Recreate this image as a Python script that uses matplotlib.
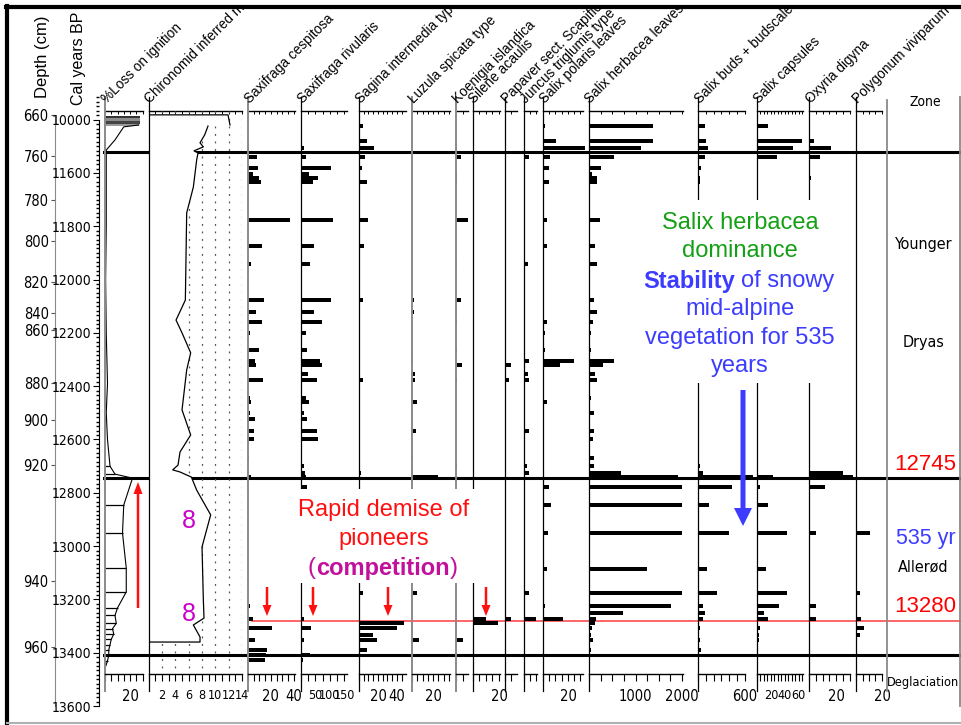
import matplotlib.pyplot as plt
import numpy as np
from matplotlib.ticker import MultipleLocator
from matplotlib.transforms import Bbox, TransformedBbox
from matplotlib.patches import Rectangle, Polygon, FancyArrow
from matplotlib import font_manager

# ---- data -------------------------------------------------------------
# sample ages (cal yr BP) shared by all macrofossil columns
sample_age = [11425, 11480, 11505, 11540, 11580, 11605, 11620, 11635, 11775, 11875,
              11940, 12075, 12120, 12160, 12200, 12265, 12305, 12320, 12355, 12375,
              12445, 12460, 12500, 12525, 12570, 12600, 12670, 12700, 12725, 12740,
              12780, 12845, 12950, 13085, 13175, 13225, 13250, 13272, 13290, 13308,
              13333, 13352, 13390, 13408, 13427]

sax_cespitosa = [0, 0, 1, 8, 9, 4, 10, 11, 37, 12, 3, 14, 7, 12, 2, 10, 6, 7, 0, 13,
                 1.5, 3, 1.5, 6, 5, 5, 1, 0, 0, 3, 0, 0, 0, 0, 0, 2, 0, 4, 0, 21,
                 0, 6, 17, 16, 15]
sax_rivularis = [0, 0, 11, 16, 102, 28, 58, 43, 111, 46, 31, 103, 45, 71, 16, 20, 66, 71, 24, 56,
                 16, 28, 11, 22, 56, 58, 5, 9, 14, 16, 20, 0, 0, 0, 0, 0, 0, 9, 0, 33,
                 0, 9, 0, 30, 7]
sagina = [4, 8, 16, 6, 3, 0, 1, 8, 9, 5, 1, 4, 1.5, 1.5, 1.5, 1, 0, 1.5, 0, 4,
          0, 1, 0, 1, 1, 0, 0, 0, 2, 0, 0, 0, 0, 0, 4, 0, 0, 0, 47, 40,
          15, 19, 8, 0, 0]
luzula = [0, 0, 0, 0, 0, 0, 0, 0, 0, 0, 0, 1.5, 1.5, 0, 0, 0, 1, 0, 3, 3,
          0, 4.5, 0, 0, 4, 0, 1, 0, 1, 25, 0, 0, 0, 0, 5, 0, 0, 0, 0, 0,
          0, 7, 0, 0, 0]
koenigia = [0, 0, 1, 3.6, 0, 1, 1, 1, 9.5, 0, 1, 3.6, 1, 1, 0, 1, 0, 4.4, 0, 1,
            0, 0, 0, 0, 0, 0, 0, 1, 0, 0, 0, 0, 0, 0, 0, 0, 0, 0, 0, 0,
            0, 5, 0, 0, 0]
silene = [0, 0, 1, 0, 1, 1, 0, 1, 0, 1, 0, 1, 0, 0, 0, 0, 0, 0, 0, 0,
          0, 0, 0, 0, 0, 0, 0, 0, 0, 0, 0, 0, 0, 0, 0, 0, 0, 10, 19, 0,
          1, 0, 0, 0, 0]
papaver = [0, 0, 1, 0, 0, 1, 1, 0, 1, 0, 1, 0, 0, 0, 0, 1, 0, 5, 0, 3,
           0, 0, 1, 0, 0, 0, 0, 1, 0, 0, 0, 0, 0, 0, 0, 0, 0, 5, 0, 0,
           0, 0, 0, 0, 0]
juncus = [0, 0, 0, 4, 0, 0, 0, 0, 0, 0, 3, 0, 1, 0, 0, 0, 4, 1, 3, 4,
          0, 0, 0, 0, 4, 0, 0, 2.5, 4, 0, 0, 0, 0, 0, 4, 0, 0, 10, 0, 0,
          0, 0, 0, 0, 0]
salix_polaris = [2, 10.6, 34, 6, 5, 0, 0, 5, 3, 3, 0, 1, 0, 3.5, 2, 1.5, 25, 13.6, 0, 0,
                 0, 3.5, 0, 0, 0, 0, 0, 0, 0, 0, 5, 6.5, 4, 3.5, 0, 2, 0, 15.7, 0, 0,
                 0, 1, 0, 0, 0]
salix_herbacea = [1370, 1383, 1110, 538, 250, 60, 180, 180, 237, 130,
                  180, 110, 165, 80, 50, 50, 545, 303, 130, 165,
                  50, 0, 100, 0, 100, 80, 110, 100, 680, 1920,
                  2000, 2000, 2000, 1240, 2000, 1760, 720, 160, 130, 60,
                  40, 80, 40, 0, 0]
salix_buds = [90, 100, 132, 90, 35, 0, 22, 22, 0, 0, 0, 0, 0, 0, 0, 0, 0, 0, 0, 0,
              10, 0, 10, 0, 10, 0, 15, 20, 60, 700, 430, 145, 400, 110, 240, 60, 90, 60, 0, 30,
              0, 30, 40, 0, 0]
salix_capsules = [16, 65, 51, 29, 1, 0, 0, 1, 0, 0, 0, 0, 0, 0, 0, 0, 0, 0, 0, 0,
                  0, 0, 1, 0, 0, 0, 0, 0, 0, 23, 5, 16, 43, 13, 43, 31, 10, 16, 0, 4,
                  3, 3, 0, 0, 0]
oxyria = [0, 3.4, 16, 8, 1, 0, 1.5, 1, 0, 0, 0, 0, 0, 0, 0, 0, 0, 0, 0, 0,
          0, 0, 0, 0, 0, 0, 0, 1, 25, 32, 12, 0, 5, 0, 0, 5, 0, 5, 0, 0,
          0, 0, 0, 0, 0]
polygonum = [1, 0, 1, 0, 1, 1, 1, 0, 1, 0, 1, 1, 0, 0, 0, 0, 0, 0, 0, 0,
             0, 0, 0, 1, 0, 0, 0, 0, 0, 0, 1, 1, 11, 0, 3, 0, 0, 4, 0, 6,
             3, 0, 0, 0, 0]

# loss on ignition (%)
loi_top_age = [11390, 11400, 11410, 11420]
loi_top = [28, 28, 28, 27]
loi_age = [11420, 11427, 11476, 11514, 11600, 11800, 12000, 12200, 12390, 12500,
           12600, 12650, 12700, 12730, 12745, 12846, 12951, 13082, 13172, 13232,
           13260, 13290, 13310, 13330, 13350, 13370, 13390, 13410, 13430, 13445]
loi = [27, 15, 8, 1, 1, 1, 0.5, 1, 2, 1,
       2, 3, 4, 8, 22, 15, 14, 17, 17, 10,
       8, 9, 6, 7, 5, 4, 3, 3, 2, 1]

# chironomid inferred July temperature (deg C)
chiro_hol_age = [11382, 11382, 11420]
chiro_hol = [0, 11.9, 12.2]
chiro_age = [11424, 11457, 11487, 11502, 11517, 11525, 11551, 11653, 11750, 12077,
             12152, 12200, 12275, 12339, 12489, 12583, 12647, 12696, 12714, 12722,
             12741, 12790, 12883, 13003, 13202, 13270, 13296, 13341, 13360]
chiro = [8.9, 8.4, 7.7, 8.2, 6.8, 7.4, 7.2, 6.7, 5.7, 5.5,
         4.1, 5.0, 6.3, 5.7, 5.0, 6.3, 4.7, 4.4, 3.6, 4.7,
         6.4, 7.2, 9.3, 8.0, 8.2, 8.3, 6.7, 7.7, 7.7]

# age model ticks
depth_cm = [660, 760, 780, 800, 820, 840, 860, 880, 900, 920, 940, 960]
depth_age = [11382, 11538, 11701, 11857, 12008, 12125, 12189, 12389, 12527, 12696, 13130, 13377]
cal_ticks = [11400, 11600, 11800, 12000, 12200, 12400, 12600, 12800, 13000, 13200, 13400, 13600]
cal_labels = ['10000', '11600', '11800', '12000', '12200', '12400', '12600', '12800',
              '13000', '13200', '13400', '13600']

zone_bounds = [11520, 12745, 13410]
demise_age = 13280
zone_names = ['Younger', 'Dryas', 'Allerød', 'Deglaciation']
zone_name_age = [11870, 12238, 13078, 13510]

# ---- layout -----------------------------------------------------------
W, H = 962, 725
AGE_TOP, AGE_BOT = 11315, 13600
AXIS_TOP, AXIS_BOT = 11367, 13480
plt.rcParams['font.family'] = ['Liberation Sans', 'DejaVu Sans']
NARROW = font_manager.FontProperties(family='DejaVu Sans', stretch='condensed', size=12)
if 'Condensed' not in font_manager.findfont(NARROW):
    NARROW = font_manager.FontProperties(family='Liberation Sans', size=11)

fig = plt.figure(figsize=(W / 100, H / 100), dpi=100)
head_clip = TransformedBbox(Bbox([[0, 0], [1, 1 - 9 / H]]), fig.transFigure)


def narrow(size):
    fp = NARROW.copy()
    fp.set_size(size * NARROW.get_size() / 12)
    return fp


def column(x0, x1, zorder=1):
    ax = fig.add_axes([x0 / W, 1 - 706 / H, (x1 - x0) / W, (706 - 97) / H])
    ax.set_ylim(AGE_BOT, AGE_TOP)
    ax.patch.set_visible(False)
    ax.set_zorder(zorder)
    return ax


def header(x, text):
    t = fig.text((x + 1.5) / W, 1 - 104 / H, text, rotation=45, rotation_mode='anchor',
                 ha='left', va='baseline', fontsize=9.8)
    t.set_clip_box(head_clip)
    t.set_clip_on(True)


def style(ax, xmax, step, labelled, spine='black', label_size=10.5):
    ax.set_xlim(0, xmax)
    ax.spines[['top', 'right']].set_visible(False)
    ax.spines['left'].set_bounds(AGE_TOP, 13545)
    ax.spines['left'].set_color(spine)
    ax.spines['left'].set_linewidth(1.4 if spine != 'black' else 0.9)
    ax.spines['bottom'].set_position(('data', AXIS_BOT))
    ax.spines['bottom'].set_linewidth(1.0)
    ticks = np.arange(0, xmax + 1e-6, step)
    ax.set_xticks(ticks)
    ax.set_xticklabels([f'{t:g}' if t in labelled else '' for t in ticks],
                       fontproperties=narrow(label_size))
    ax.tick_params(axis='x', direction='out', length=5, width=0.8, pad=6)
    ax.set_yticks([])
    top = ax.secondary_xaxis((AGE_BOT - AXIS_TOP) / (AGE_BOT - AGE_TOP))
    top.set_xticks(ticks)
    top.tick_params(direction='in', length=2.5, width=0.7, labeltop=False)
    top.spines['top'].set_linewidth(1.0)


# zone boundaries run underneath every column
bg = fig.add_axes([103 / W, 1 - 706 / H, (W - 103) / W, (706 - 97) / H])
bg.set_ylim(AGE_BOT, AGE_TOP)
bg.set_xlim(0, 1)
bg.axis('off')
bg.set_zorder(0)
for b in zone_bounds:
    bg.axhline(b, color='black', lw=2.2)
bg.axhline(demise_age, xmin=(252 - 103) / (W - 103), color='#ff3c3c', lw=1.1)

# depth and age scales
ax_d = column(55, 56)
ax_d.spines[['top', 'right', 'bottom']].set_visible(False)
ax_d.spines['left'].set_color('#8a8a8a')
ax_d.spines['left'].set_bounds(depth_age[0], AGE_BOT)
ax_d.set_xticks([])
ax_d.set_yticks(depth_age)
ax_d.set_yticklabels([str(d) for d in depth_cm], fontproperties=narrow(10.5))
ax_d.tick_params(axis='y', length=3, color='#555555', pad=1.5)

ax_c = column(99, 100)
ax_c.spines[['top', 'right', 'bottom']].set_visible(False)
ax_c.spines['left'].set_bounds(cal_ticks[0], AGE_BOT)
ax_c.set_xticks([])
ax_c.set_yticks(cal_ticks)
ax_c.set_yticklabels(cal_labels, fontproperties=narrow(10))
ax_c.yaxis.set_minor_locator(MultipleLocator(200 / 12))
ax_c.tick_params(axis='y', which='major', length=4, pad=1.5)
ax_c.tick_params(axis='y', which='minor', length=2, width=1)

fig.text(43 / W, 1 - 57 / H, 'Depth (cm)', rotation=90, ha='center', va='center', fontsize=12)
fig.text(79 / W, 1 - 58 / H, 'Cal years BP', rotation=90, ha='center', va='center', fontsize=11.5)

# loss on ignition
ax_l = column(105, 143)
style(ax_l, 30.4, 5, [20], spine='#8a8a8a')
ax_l.barh(loi_top_age, loi_top, height=10, color=['#333333', '#8c8c8c', '#444444', '#9a9a9a'])
ax_l.plot(loi, loi_age, color='black', lw=0.8)
ax_l.hlines([a for a in loi_age if a > 12690], 0,
            [v for a, v in zip(loi_age, loi) if a > 12690], color='black', lw=0.9)
header(105, '%Loss on ignition')

# chironomid temperatures
ax_t = column(148.7, 242)
style(ax_t, 14, 1, list(range(2, 15, 2)), label_size=9)
ax_t.vlines(np.arange(2, 15, 2), AXIS_TOP, AXIS_BOT, color='#555555', lw=0.9,
            linestyles=(0, (1.5, 4.5)), zorder=0.5)
outline = list(zip(chiro_hol, chiro_hol_age)) + list(zip(chiro, chiro_age))
outline += [(0, chiro_age[-1])]
ax_t.add_patch(Polygon(outline, closed=True, facecolor='white', edgecolor='none', zorder=1))
ax_t.plot(chiro_hol, chiro_hol_age, color='black', lw=0.9, zorder=2)
ax_t.plot(chiro + [0], chiro_age + [chiro_age[-1]], color='black', lw=0.9, zorder=2)
ax_t.text(6.1, 12905, '8', color='#cc00cc', fontsize=18, ha='center', va='center', zorder=3)
ax_t.text(6.1, 13255, '8', color='#cc00cc', fontsize=18, ha='center', va='center', zorder=3)
header(148.7, 'Chironomid inferred mean July temperature (°C)')

# macrofossil columns: name, counts, left, right, axis max, tick step, labelled ticks
columns = [
    ('Saxifraga cespitosa', sax_cespitosa, 248, 295, 41, 5, [20, 40]),
    ('Saxifraga rivularis', sax_rivularis, 301, 347, 159, 25, [50, 100, 150]),
    ('Sagina intermedia type', sagina, 359, 406, 49.5, 5, [20, 40]),
    ('Luzula spicata type', luzula, 412, 450, 36, 5, [20]),
    ('Koenigia islandica', koenigia, 456, 468, 9.2, 5, []),
    ('Silene acaulis', silene, 473, 500, 20.8, 5, [20]),
    ('Papaver sect. Scapiflora', papaver, 505, 517, 9.6, 5, []),
    ('Juncus triglumis type', juncus, 524, 537, 10.4, 5, []),
    ('Salix polaris leaves', salix_polaris, 543, 583, 32, 5, [20]),
    ('Salix herbacea leaves', salix_herbacea, 589, 683, 2020, 250, [1000, 2000]),
    ('Salix buds + budscales', salix_buds, 698, 745, 600, 100, [600]),
    ('Salix capsules', salix_capsules, 757, 803, 66, 5, [20, 40, 60]),
    ('Oxyria digyna', oxyria, 809, 850, 30, 5, [20]),
    ('Polygonum viviparum', polygonum, 856, 882, 20, 5, [20]),
]
grey_axis = {'Saxifraga cespitosa', 'Luzula spicata type', 'Koenigia islandica'}
for name, vals, x0, x1, xmax, step, lab in columns:
    ax = column(x0, x1)
    style(ax, xmax, step, lab, spine='#8a8a8a' if name in grey_axis else 'black',
          label_size=9 if len(lab) > 2 else 10.5)
    ax.barh(sample_age, vals, height=15, color='black', clip_on=False)
    header(x0, name)

# zone column
ax_z = column(887, 960)
ax_z.set_xlim(0, 1)
ax_z.spines[['top', 'bottom']].set_visible(False)
ax_z.spines[['left', 'right']].set_color('#8a8a8a')
ax_z.spines[['left', 'right']].set_linewidth(1.3)
ax_z.spines['left'].set_bounds(11325, 13545)
ax_z.set_xticks([])
ax_z.set_yticks([])
ztr = ax_z.get_yaxis_transform()
ax_z.text(0.52, 11332, 'Zone', transform=ztr, ha='center', va='center',
          fontproperties=narrow(10))
for name, age in zip(zone_names, zone_name_age):
    ax_z.text(0.5, age, name, transform=ztr, ha='center', va='center',
              fontproperties=narrow(11.5 if name != 'Deglaciation' else 9.2))
ax_z.text(0.53, zone_bounds[1] - 50, str(zone_bounds[1]), transform=ztr, ha='center',
          va='center', color='red', fontsize=16)
ax_z.text(0.53, demise_age - 52, str(demise_age), transform=ztr, ha='center',
          va='center', color='red', fontsize=16)
ax_z.text(0.53, 12970, f'{demise_age - zone_bounds[1]} yr', transform=ztr, ha='center',
          va='center', color='#3c3cff', fontsize=15.5)

# overlay in pixel units for notes, arrows and the frame
ov = fig.add_axes([0, 0, 1, 1])
ov.set_xlim(0, W)
ov.set_ylim(H, 0)
ov.axis('off')
ov.set_zorder(10)
ov.patch.set_visible(False)

ov.add_patch(Rectangle((290, 489), 190, 94, facecolor='white', edgecolor='none'))
ov.add_patch(Rectangle((616, 200), 228, 183, facecolor='white', edgecolor='none'))

red, green, blue, purple = '#ff1010', '#14a014', '#3c3cff', '#c0109c'
ov.text(384, 510, 'Rapid demise of', color=red, fontsize=17, ha='center', va='center')
ov.text(384, 539, 'pioneers', color=red, fontsize=17, ha='center', va='center')
ov.text(383, 568, 'competition', color=purple, fontsize=17, fontweight='bold',
        ha='center', va='center')
ov.text(316, 568, '(', color=purple, fontsize=17, ha='right', va='center')
ov.text(450, 568, ')', color=purple, fontsize=17, ha='left', va='center')

ov.text(740, 223, 'Salix herbacea', color=green, fontsize=17, ha='center', va='center')
ov.text(740, 251, 'dominance', color=green, fontsize=17, ha='center', va='center')
ov.text(735, 281, 'Stability', color=blue, fontsize=17, fontweight='bold', ha='right', va='center')
ov.text(741, 281, 'of snowy', color=blue, fontsize=17, ha='left', va='center')
ov.text(740, 309, 'mid-alpine', color=blue, fontsize=17, ha='center', va='center')
ov.text(740, 338, 'vegetation for 535', color=blue, fontsize=17, ha='center', va='center')
ov.text(740, 366, 'years', color=blue, fontsize=17, ha='center', va='center')

ov.add_patch(FancyArrow(138, 608, 0, -126, width=2.5, head_width=9, head_length=12,
                        length_includes_head=True, color=red, lw=0))
for x in (267, 313, 388, 486):
    ov.add_patch(FancyArrow(x, 587, 0, 29, width=2.5, head_width=9, head_length=11,
                            length_includes_head=True, color=red, lw=0))
ov.add_patch(FancyArrow(743, 390, 0, 136, width=5, head_width=18, head_length=18,
                        length_includes_head=True, color=blue, lw=0))

ov.plot([7, 7], [6, 723], color='black', lw=3, clip_on=False)
ov.plot([6, W], [7, 7], color='black', lw=3, clip_on=False)
ov.plot([7, W], [722.5, 722.5], color='#b0b0b0', lw=1.5, clip_on=False)

fig.savefig('out.png', dpi=100)
